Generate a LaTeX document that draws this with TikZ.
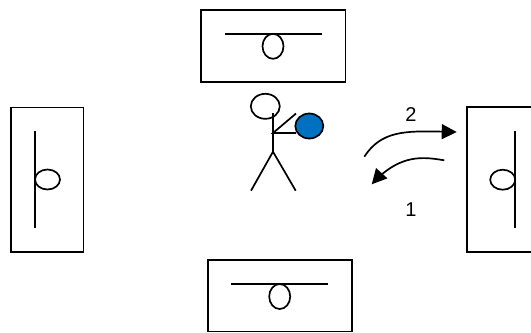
\documentclass[tikz,border=0pt]{standalone}
\usepackage{fontspec}
\setmainfont{Liberation Sans}
\usetikzlibrary{arrows.meta,bending}
\tikzset{
  ink/.style={draw=black,line width=1.7bp},
  stage/.style={ink,rectangle,inner sep=0pt,minimum width=#1},
  pass/.style={ink,-{Triangle[length=15bp,width=15bp,flex=0]}},
  digit/.style={font=\fontsize{20bp}{22bp}\selectfont,text=black,inner sep=0pt}
}
\begin{document}
\begin{tikzpicture}[x=1bp,y=-1bp]
\useasboundingbox (0,0) rectangle (531,332);
\clip (0,0) rectangle (531,332);
\fill[white] (0,0) rectangle (531,332);

% Four frames, each holding a bar with a small loop on it
\node[stage=144.5bp,minimum height=72bp] (topframe) at (273.3,46) {};
\draw[ink] (225,34) coordinate (topbarL) -- (322,34) coordinate (topbarR);
\draw[ink] (273,46.3) ellipse [x radius=10.5,y radius=12.5];

\node[stage=144bp,minimum height=71.5bp] (bottomframe) at (279.7,295.7) {};
\draw[ink] (231,284) coordinate (botbarL) -- (328,284) coordinate (botbarR);
\draw[ink] (279.7,296.5) ellipse [x radius=10.5,y radius=12.5];

\node[stage=72.5bp,minimum height=144.5bp] (leftframe) at (47.2,179.8) {};
\draw[ink] (35,131) coordinate (leftbarT) -- (35,228) coordinate (leftbarB);
\draw[ink] (47.5,179.5) ellipse [x radius=12.5,y radius=10];

\node[stage=80bp,minimum height=144.5bp] (rightframe) at (507,179.5) {};
\draw[ink] (515.3,131) coordinate (rightbarT) -- (515.3,228) coordinate (rightbarB);
\draw[ink] (502.7,179.7) ellipse [x radius=12.5,y radius=10];

% Stick figure holding the ball
\coordinate (neck) at (273,113);
\coordinate (shoulder) at (273,133);
\coordinate (hip) at (273,151.7);
\coordinate (footL) at (251,190.7);
\coordinate (footR) at (295.7,190.7);
\coordinate (handU) at (296,113.5);
\coordinate (handL) at (296,133);
\draw[ink] (neck) -- (hip) -- (footL) (hip) -- (footR);
\draw[ink] (handU) -- (shoulder) -- (handL);
\draw[ink] (265.3,106.3) ellipse [x radius=14.5,y radius=12.5];
\draw[ink,fill={rgb,255:red,0;green,112;blue,192}] (309.3,126) ellipse [x radius=14,y radius=12.5];

% Passing arrows and their order
\coordinate (twoA) at (364.3,156.7);
\coordinate (twoB) at (456.7,132);
\coordinate (oneA) at (444.3,160.3);
\coordinate (oneB) at (371.7,184.3);
\draw[pass] (twoA) .. controls (383,128) and (410,131) .. (twoB);
\draw[pass] (oneA) .. controls (424,157) and (400,153) .. (oneB);
\node[digit] (two) at (411,115) {2};
\node[digit] (one) at (411,210) {1};
\end{tikzpicture}
\end{document}
